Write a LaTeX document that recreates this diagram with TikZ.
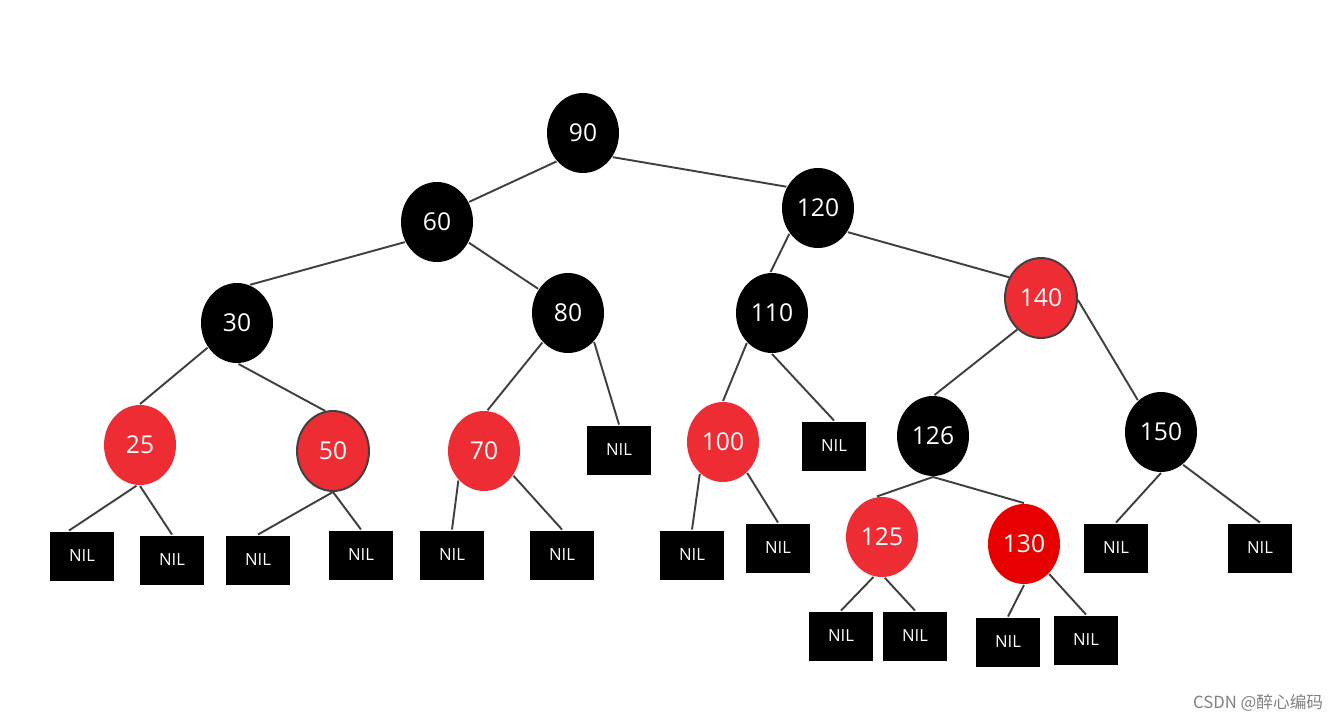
\documentclass[tikz,border=0pt]{standalone}
\usepackage{fontspec}
\setmainfont{Open Sans}
\newfontfamily\cjkfont{Noto Sans CJK SC}
\usetikzlibrary{shapes.geometric}
\definecolor{nodered}{RGB}{238,44,52}
\definecolor{deepred}{RGB}{232,0,0}
\definecolor{edgegray}{RGB}{64,64,64}

\begin{document}
\begin{tikzpicture}[x=0.02cm, y=-0.02cm, line width=1.1pt,
		black node/.style={ellipse,fill=black,text=white,inner sep=0pt,
			minimum width=1.44cm,minimum height=1.6cm,font=\fontsize{14}{16}\selectfont},
		red node/.style={black node,fill=nodered},
		nil node/.style={rectangle,fill=black,text=white,inner sep=0pt,
			minimum width=1.28cm,minimum height=0.98cm,font=\fontsize{9.5}{11}\selectfont}]
	\useasboundingbox (0,0) rectangle (1343,721);
	
			\node[black node] (n90) at (583,133) {90};
			\node[black node] (n60) at (437,222) {60};
			\node[black node] (n120) at (818,208) {120};
			\node[black node] (n30) at (237,323) {30};
			\node[black node] (n80) at (568,313) {80};
			\node[black node] (n110) at (772,313) {110};
			\node[red node,draw=edgegray] (n140) at (1041,298) {140};
			\node[red node] (n25) at (140,445) {25};
			\node[red node,draw=edgegray] (n50) at (333,451) {50};
			\node[red node] (n70) at (484,451) {70};
			\node[red node] (n100) at (723,442) {100};
			\node[black node] (n126) at (933,436) {126};
			\node[black node] (n150) at (1161,432) {150};
			\node[red node] (n125) at (882,537) {125};
			\node[red node,fill=deepred] (n130) at (1024,544) {130};
			
			\node[nil node] (nil80) at (619,450) {NIL};
			\node[nil node] (nil110) at (834,446) {NIL};
			\node[nil node] (nil25a) at (82,556) {NIL};
			\node[nil node] (nil25b) at (172,560) {NIL};
			\node[nil node] (nil50a) at (258,560) {NIL};
			\node[nil node] (nil50b) at (361,555) {NIL};
			\node[nil node] (nil70a) at (452,555) {NIL};
			\node[nil node] (nil70b) at (562,555) {NIL};
			\node[nil node] (nil100a) at (692,555) {NIL};
			\node[nil node] (nil100b) at (778,548) {NIL};
			\node[nil node] (nil150a) at (1116,548) {NIL};
			\node[nil node] (nil150b) at (1260,548) {NIL};
			\node[nil node] (nil125a) at (841,636) {NIL};
			\node[nil node] (nil125b) at (915,636) {NIL};
			\node[nil node] (nil130a) at (1008,642) {NIL};
			\node[nil node] (nil130b) at (1086,640) {NIL};
			
			\path[draw=edgegray]
			(n90.227) edge (n60.32)
			(n90.321) edge (n120.146)
			(n60.212) edge (n30.71)
			(n60.327) edge (n80.141)
			(n120.222) edge (n110.92)
			(n120.321) edge (n140.147)
			(n30.220) edge (n25.90)
			(n30.272) edge (n50.101)
			(n80.229) edge (n70.85)
			(n80.312) edge (nil80.north)
			(n110.230) edge (n100.90)
			(n110.270) edge (nil110.north)
			(n140.233) edge (n126.88)
			(n140.357) edge (n150.126)
			(n25.265) edge (nil25a.117)
			(n25.270) edge (nil25b.north)
			(n50.270) edge (nil50a.north)
			(n50.270) edge (nil50b.north)
			(n70.229) edge (nil70a.north)
			(n70.320) edge (nil70b.north)
			(n100.234) edge (nil100a.north)
			(n100.308) edge (nil100b.north)
			(n126.south) edge (n125.97)
			(n126.south) edge (n130.north)
			(n150.south) edge (nil150a.north)
			(n150.304) edge (nil150b.north)
			(n125.258) edge (nil125a.north)
			(n125.274) edge (nil125b.north)
			(n130.270) edge (nil130a.north)
			(n130.310) edge (nil130b.north);
			
			\node[anchor=east,text=gray,font=\cjkfont\fontsize{9.5}{11}\selectfont] (mark) at (1330,703) {CSDN @醉心编码};
		\end{tikzpicture}
\end{document}
